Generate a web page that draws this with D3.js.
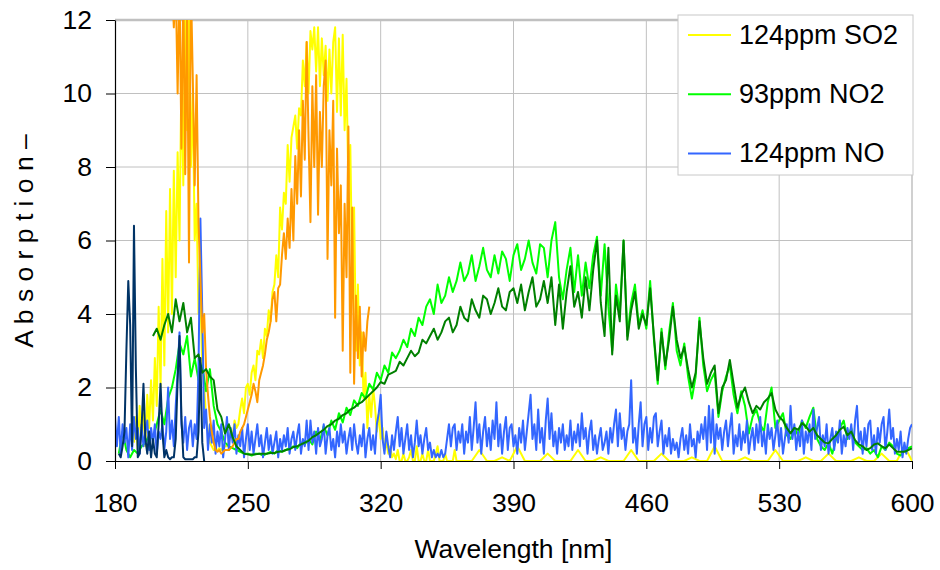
<!DOCTYPE html>
<html>
<head>
<meta charset="utf-8">
<script src="https://cdn.jsdelivr.net/npm/d3@7"></script>
<style>
  body { margin: 0; background: #fff; }
  text { font-family: "Liberation Sans", Arial, sans-serif; fill: #000; }
</style>
</head>
<body>
<div id="chart"></div>
<script>
// axis ticks
const xTicks = [180, 250, 320, 390, 460, 530, 600];
const yTicks = [0, 2, 4, 6, 8, 10, 12];

// legend
const legendLabels = ["124ppm SO2", "93ppm NO2", "124ppm NO"];

// 124ppm SO2, run 1 (yellow), 1 nm from 190 nm
const so2Start = 190;
const so2Values = [
  0.5,1.2,0.3,1.5,0.6,1.3,0.4,1.8,0.9,2.2,
  1.1,2.8,1.5,4.2,2.0,5.5,2.6,6.8,3.5,7.4,
  4.0,7.9,5.0,8.4,6.0,10.5,7.5,12.5,9.0,12.5,
  8.0,10.0,6.0,7.0,4.0,4.5,2.5,2.0,1.2,0.8,
  0.5,0.4,0.3,0.3,0.3,0.35,0.3,0.35,0.4,0.4,
  0.5,0.8,0.7,1.1,0.9,1.0,1.4,1.7,1.3,2.0,
  2.1,1.8,2.4,2.6,2.2,3.0,2.9,3.3,2.8,3.6,
  3.4,4.1,3.8,4.6,4.8,5.6,5.0,6.9,6.3,7.3,
  7.0,8.6,7.6,8.8,9.1,9.4,8.5,9.6,9.4,10.9,
  10.2,11.4,10.0,11.7,11.2,11.8,10.6,11.8,10.2,11.5,
  10.5,11.3,9.8,11.2,10.0,11.4,11.8,9.5,11.5,9.4,
  11.6,9.0,10.4,7.5,8.6,5.0,6.9,3.0,4.8,2.6,
  3.5,1.7,2.4,0.9,1.8,1.2,2.0,1.5,0.8,1.3,
  0.6,0.9,0.3,0.5,0.2,0.4,0.1,0.2,0.05,0.3,
  0,0,0.2,0,0,0.1,0.3,0,0,0.4,
  0,0,0.2,0,0,0.3,0,0,0,0.2,
  0.4,0,0,0,0.2,0,0,0,0,0.3,
  0
];
// SO2 run 1 tail, 4 nm from 364 nm
const so2TailStart = 364;
const so2TailValues = [
  0,0,0.3,0,0,0.1,0,0.4,0,0,
  0,0.2,0,0,0,0.3,0,0,0.1,0,
  0,0,0.3,0,0,0,0.2,0,0,0,
  0.1,0,0,0.4,0,0,0,0.1,0,0,
  0,0.3,0,0,0,0.1,0,0,0.2,0,
  0,0,0.1,0,0,0.2,0,0,0.4,0
];

// SO2 run 2 (orange), 1 nm from 209 nm
const so2bStart = 209;
const so2bValues = [
  14,13,11.8,13,10,13,8.5,13,7.8,12.5,
  5.4,13,10.4,7.5,10.5,6.5,5.0,3.5,4.0,2.5,
  1.8,1.2,0.8,0.5,0.3,0.25,0.3,0.2,0.25,0.3,
  0.3,0.3,0.35,0.4,0.5,0.6,0.6,0.8,0.9,1.0,
  1.2,1.4,1.6,1.8,2.1,1.9,1.6,2.2,2.4,2.6,
  2.9,3.3,3.5,3.8,4.4,4.6,3.8,4.7,4.8,5.6,
  6.2,5.5,6.6,5.8,7.4,6.0,8.3,7.0,9.0,7.2,
  9.8,8.2,11.4,8.8,6.5,10.2,8.0,10.5,6.7,9.5,
  8.0,10.2,10.9,5.5,9.0,7.5,9.8,3.9,8.5,6.2,
  7.5,3.0,7.0,5.0,9.1,2.4,6.9,2.1,4.5,2.8,
  4.2,2.3,3.5,3.0,3.8,4.2
];

// 93ppm NO2, run 1 (light green), 2 nm from 182 nm
const no2Start = 182;
const no2Values = [
  0.2,0.8,0.3,0.1,0.3,0.2,0.4,0.5,0.7,0.6,
  1.0,1.4,1.0,1.7,2.0,2.5,3.2,2.9,3.4,2.3,
  2.8,2.2,2.6,1.9,2.5,1.5,1.0,0.8,0.5,0.4,
  0.35,0.3,0.25,0.2,0.2,0.15,0.2,0.2,0.15,0.2,
  0.25,0.2,0.3,0.25,0.3,0.35,0.4,0.35,0.5,0.45,
  0.6,0.45,0.8,0.55,0.95,0.7,1.1,0.85,1.3,1.05,
  1.45,1.25,1.65,1.5,1.85,1.7,2.1,1.95,2.4,2.2,
  2.6,2.4,2.95,2.8,3.0,3.3,3.1,3.6,3.4,3.9,
  3.7,4.2,4.4,4.0,4.8,4.3,4.5,5.0,4.6,4.9,
  5.4,4.9,5.1,5.6,4.9,5.3,5.8,5.2,5.0,5.6,
  5.1,5.7,5.5,4.9,5.6,5.9,5.2,5.5,6.0,5.4,
  5.1,5.9,5.8,5.0,6.0,6.5,5.0,4.4,5.2,5.8,
  4.6,5.6,4.5,5.4,4.7,5.6,6.1,4.5,5.9,4.2,
  3.0,4.8,4.0,6.0,3.4,4.3,4.8,3.7,4.1,3.6,
  4.9,3.3,2.1,3.6,2.5,3.5,4.3,3.0,2.6,3.2,
  2.3,1.7,2.3,3.9,2.6,1.9,2.2,2.4,1.2,1.9,
  2.3,2.6,1.8,1.3,1.9,1.5,0.75,1.2,1.4,1.0,
  0.8,1.6,2.0,0.9,1.1,1.3,0.7,0.6,0.9,0.7,
  1.1,0.9,1.2,1.45,0.6,0.4,0.3,0.5,0.2,0.6,
  0.9,1.1,0.6,0.9,0.5,0.4,0.3,0.35,0.2,0.3,
  0.1,0.4,0.3,0.5,0.4,0.2,0.15,0.3,0.35,0.4
];

// NO2 run 2 (dark green), 2 nm from 200 nm
const no2bStart = 200;
const no2bValues = [
  3.4,3.6,3.3,3.7,4.0,3.5,4.4,3.8,4.3,3.5,
  3.9,2.8,2.9,2.4,2.5,2.3,2.2,1.4,1.2,0.75,
  1.0,0.65,0.4,0.3,0.2,0.18,0.18,0.18,0.2,0.2,
  0.2,0.22,0.22,0.25,0.26,0.3,0.32,0.38,0.4,0.45,
  0.5,0.55,0.65,0.7,0.78,0.85,0.95,1.0,1.1,1.15,
  1.25,1.3,1.4,1.45,1.55,1.6,1.7,1.8,1.9,2.0,
  2.15,2.1,2.35,2.4,2.45,2.7,2.6,2.8,3.0,2.85,
  2.95,3.3,3.2,3.4,3.6,3.3,3.5,3.8,3.9,3.5,
  3.7,4.2,3.9,3.8,4.4,4.1,3.9,4.5,4.4,4.0,
  4.3,4.7,4.2,4.1,4.6,4.7,4.3,4.8,4.1,4.6,
  5.0,4.2,4.4,4.9,4.3,5.0,3.7,4.8,3.6,4.6,
  5.3,4.2,4.6,3.9,5.0,4.1,5.2,6.0,4.3,3.4,
  5.8,2.9,4.5,3.8,6.0,3.3,4.1,4.6,3.6,4.0,
  3.7,4.7,3.4,2.2,3.5,2.6,3.3,4.2,3.3,2.8,
  3.1,2.5,2.0,2.4,3.8,2.8,2.1,2.4,2.6,1.3,
  2.0,2.2,2.75,2.1,1.45,1.8,2.0,1.6,1.3,1.5,
  1.4,1.6,1.7,1.85,1.4,1.2,1.1,0.9,0.75,0.9,
  0.85,1.03,0.95,0.8,0.9,0.7,0.6,0.5,0.48,0.6,
  0.7,0.85,0.93,0.7,0.8,0.57,0.45,0.4,0.3,0.35,
  0.45,0.48,0.4,0.35,0.45,0.35,0.25,0.25,0.25,0.3,
  0.34
];

// 124ppm NO, run 1 (blue), 1 nm from 180 nm
const noStart = 180;
const noValues = [
  1.2,0.4,1.2,0.2,1.0,0.5,0.9,0.1,1.0,0.3,
  1.2,0.6,0.9,0.2,1.0,0.4,0.8,1.1,0.3,0.9,
  0.5,1.0,0.2,0.8,0.6,1.0,0.3,0.8,2.0,0.6,
  1.1,0.4,1.5,2.4,3.5,1.0,0.5,1.2,0.3,0.9,
  1.1,0.4,1.0,0.6,2.5,6.6,4.0,0.9,1.4,0.3,
  1.0,0.5,1.1,0.2,0.8,0.4,1.0,0.1,0.6,1.2,
  0.3,0.9,0.5,1.0,0.2,0.7,0.4,0.9,0.1,0.6,
  1.0,0.3,0.8,0.2,0.6,1.0,0.4,0.7,0.1,0.5,
  0.9,0.3,0.7,0.2,0.5,0.8,0.1,0.6,0.3,0.7,
  0.4,0.9,0.2,0.6,0.8,0.3,0.7,1.0,0.2,0.6,
  0.4,1.1,0.3,1.1,0.5,0.8,0.2,0.9,0.4,0.6,
  1.0,0.2,0.7,0.9,0.3,0.6,0.1,0.8,0.4,1.0,
  0.5,0.8,0.2,0.6,0.9,0.3,1.0,0.5,0.2,0.7,
  0.4,1.0,0.1,0.6,0.9,0.3,0.7,0.2,1.0,1.3,
  1.8,0.6,0.2,0.8,0.4,0.1,0.7,0.3,0.8,1.2,
  0.4,0.9,0.2,0.6,1.0,0.3,0.7,0.1,0.5,1.1,
  0.4,0.7,0.2,0.6,0.9,0.3,0.5,0.1,0.3,0.1,
  0.2,0.1,0.3,0.1,0.2,0.6,1.0,0.4,0.9,1.0,
  0.3,0.8,0.5,1.0,0.2,0.8,0.5,1.2,0.3,0.9,
  1.6,0.5,1.0,0.2,0.8,1.2,0.4,0.9,0.3,1.1,
  0.6,1.6,0.4,1.0,0.2,0.8,1.2,0.3,0.9,1.0,
  0.4,0.7,0.2,0.9,0.5,1.1,0.3,0.8,1.3,1.8,
  0.6,1.0,0.3,1.4,0.5,0.9,0.2,1.1,1.7,0.6,
  1.3,0.4,0.8,0.2,0.9,0.5,1.0,0.3,0.7,0.4,
  1.1,0.3,0.8,0.5,1.0,0.4,1.3,0.6,0.9,0.2,
  0.8,1.1,0.3,0.7,0.2,0.6,0.9,0.3,0.5,0.8,
  0.2,0.9,0.5,1.0,1.4,0.4,1.3,0.6,0.9,0.3,
  0.8,1.0,2.2,0.5,0.9,0.2,1.0,1.6,0.4,1.0,
  1.2,0.3,0.9,0.5,1.2,1.3,0.4,0.8,1.1,0.2,
  0.7,0.4,0.9,0.2,0.6,0.3,0.5,0.1,0.6,0.9,
  0.3,0.7,0.2,1.0,0.4,0.6,0.1,0.8,0.5,1.0,
  0.6,1.2,0.3,1.5,0.5,1.4,0.2,1.0,0.6,0.9,
  0.3,0.8,1.1,0.4,0.9,1.3,0.2,0.7,0.4,1.0,
  0.3,0.8,0.5,1.1,0.2,0.6,0.9,0.3,1.0,0.5,
  1.2,0.4,0.8,0.2,1.0,0.6,0.9,0.3,0.7,1.1,
  0.4,0.9,0.2,0.6,1.0,0.5,1.5,0.6,1.0,0.3,
  0.8,0.4,1.1,0.2,0.8,0.5,1.0,0.3,1.4,0.6,
  0.9,1.2,0.3,0.7,0.4,1.0,0.2,0.6,0.9,0.3,
  0.8,0.5,1.1,0.2,0.7,0.4,0.9,0.6,1.0,0.3,
  1.1,1.5,0.5,0.8,0.2,0.9,0.4,1.0,1.1,0.3,
  0.7,0.2,0.9,0.5,1.0,1.2,0.3,0.8,1.4,0.6,
  0.9,0.2,0.6,0.3,0.8,0.1,0.5,0.2,0.6,0.9,
  1.0
];

// NO run 2 (navy), 1 nm from 182 nm
const nobStart = 182;
const nobValues = [
  0.2,0.1,0.4,0.8,3.0,4.9,3.7,0.4,6.4,2.5,
  0.1,0.2,0.9,2.1,0.6,0.2,0.8,0.1,0.6,0.2,
  0.1,1.0,2.1,0.8,0.1,0.3,0.1,0.05,0.1,0.1,
  0.6,2.2,3.4,1.2,0.1,0.05,0.05,0.05,0.05,0.05,
  0.1,0.1,0.8,2.8,0.5,0.0
];

function toPoints(start, step, values) {
  return values.map(function(v, i) { return { w: start + i * step, v: v }; });
}

const width = 940, height = 570;
const plotLeft = 115, plotRight = 912, plotTop = 20, plotBottom = 461;

const svg = d3.select("#chart")
  .append("svg")
  .attr("width", width)
  .attr("height", height);

const x = d3.scaleLinear().domain([180, 600]).range([plotLeft, plotRight]);
const y = d3.scaleLinear().domain([0, 12]).range([plotBottom, plotTop]);

// grid
svg.append("g")
  .selectAll("line")
  .data(yTicks.filter(t => t > 0)).enter()
  .append("line")
  .attr("x1", plotLeft).attr("x2", plotRight)
  .attr("y1", d => y(d)).attr("y2", d => y(d))
  .attr("stroke", "#c0c0c0")
  .attr("stroke-width", d => d === 12 ? 2.5 : 1);

svg.append("g")
  .selectAll("line")
  .data(xTicks.filter(t => t > 180)).enter()
  .append("line")
  .attr("x1", d => x(d)).attr("x2", d => x(d))
  .attr("y1", plotTop).attr("y2", plotBottom)
  .attr("stroke", "#c0c0c0")
  .attr("stroke-width", d => d === 600 ? 1.5 : 1);

// clip to plot area
svg.append("clipPath").attr("id", "plot")
  .append("rect")
  .attr("x", plotLeft).attr("y", plotTop)
  .attr("width", plotRight - plotLeft).attr("height", plotBottom - plotTop);

const line = d3.line()
  .x(d => x(d.w))
  .y(d => y(d.v));

const series = [
  { pts: toPoints(so2Start, 1, so2Values).concat(toPoints(so2TailStart, 4, so2TailValues)), color: "#ffff00" },
  { pts: toPoints(no2Start, 2, no2Values), color: "#00ff00" },
  { pts: toPoints(noStart, 1, noValues), color: "#3366ff" },
  { pts: toPoints(so2bStart, 1, so2bValues), color: "#ff9900" },
  { pts: toPoints(no2bStart, 2, no2bValues), color: "#008000" },
  { pts: toPoints(nobStart, 1, nobValues), color: "#003366" }
];

svg.append("g")
  .attr("clip-path", "url(#plot)")
  .selectAll("path")
  .data(series).enter()
  .append("path")
  .attr("d", d => line(d.pts))
  .attr("fill", "none")
  .attr("stroke", d => d.color)
  .attr("stroke-width", 2)
  .attr("stroke-linejoin", "round");

// axes
const yAxis = svg.append("g")
  .attr("transform", `translate(${plotLeft},0)`)
  .call(d3.axisLeft(y).tickValues(yTicks).tickSize(9).tickSizeOuter(0).tickPadding(14));

const xAxis = svg.append("g")
  .attr("transform", `translate(0,${plotBottom})`)
  .call(d3.axisBottom(x).tickValues(xTicks).tickSize(8).tickSizeOuter(0).tickPadding(24));

[yAxis, xAxis].forEach(function(g) {
  g.select(".domain").attr("stroke", "#000").attr("stroke-width", 1.2);
  g.selectAll(".tick line").attr("stroke", "#000");
  g.selectAll(".tick text")
    .attr("font-family", "Liberation Sans, Arial, sans-serif")
    .attr("font-size", 26.5)
    .attr("fill", "#000");
});

// titles
svg.append("text")
  .attr("x", (plotLeft + plotRight) / 2)
  .attr("y", 558)
  .attr("text-anchor", "middle")
  .attr("font-size", 26.5)
  .text("Wavelength [nm]");

svg.append("text")
  .attr("transform", "translate(33,241) rotate(-90)")
  .attr("text-anchor", "middle")
  .attr("font-size", 26.5)
  .text("A b s o r p t i o n –");

// legend
const legend = svg.append("g");
legend.append("rect")
  .attr("x", 678).attr("y", 15)
  .attr("width", 235).attr("height", 160)
  .attr("fill", "#fff")
  .attr("stroke", "#c8c8c8");

const legendColors = ["#ffff00", "#00ff00", "#3366ff"];
const legendItems = legend.selectAll("g.item")
  .data(legendLabels).enter()
  .append("g")
  .attr("transform", (d, i) => `translate(0,${35 + i * 59.2})`);

legendItems.append("line")
  .attr("x1", 688).attr("x2", 731)
  .attr("stroke", (d, i) => legendColors[i])
  .attr("stroke-width", 2);

legendItems.append("text")
  .attr("x", 739)
  .attr("dominant-baseline", "central")
  .attr("font-size", 27)
  .text(d => d);
</script>
</body>
</html>
